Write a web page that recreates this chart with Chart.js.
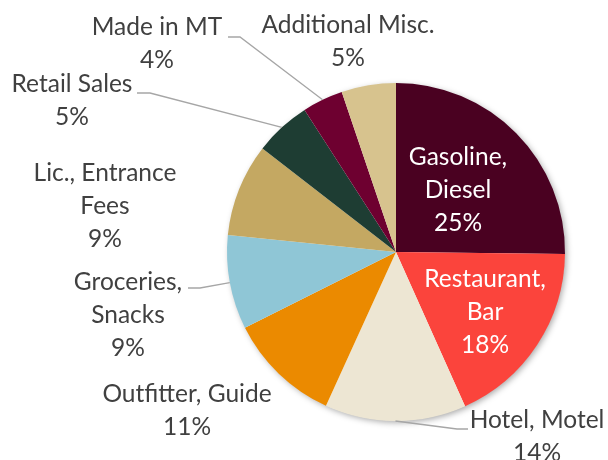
<!DOCTYPE html>
<html>
<head>
<meta charset="utf-8">
<script src="https://cdn.jsdelivr.net/npm/chart.js@4"></script>
<style>
    html, body { margin: 0; padding: 0; background: #fff; }
    #wrap { width: 608px; height: 460px; }
</style>
</head>
<body>
<div id="wrap"><canvas id="gasto-grafica" width="608" height="460"></canvas></div>
<script>
// Datos
const categorias = [
    ['Gasoline,', 'Diesel'],
    ['Restaurant,', 'Bar'],
    ['Hotel, Motel'],
    ['Outfitter, Guide'],
    ['Groceries,', 'Snacks'],
    ['Lic., Entrance', 'Fees'],
    ['Retail Sales'],
    ['Made in MT'],
    ['Additional Misc.']
];
const porcentajes = [25.2, 18.1, 13.5, 10.8, 9.0, 8.9, 5.4, 3.9, 5.2];
const etiquetasPct = ['25%', '18%', '14%', '11%', '9%', '9%', '5%', '4%', '5%'];
const colores = ['#4a0121', '#fb443c', '#ede6d3', '#eb8a00', '#8fc6d6', '#c4a862', '#1e3d33', '#6e0030', '#d7c38e'];

// Posición de cada etiqueta: centro x, primera línea base y, color, codo de la guía
const etiquetas = [
    { x: 458, y: 165, color: '#ffffff' },
    { x: 485, y: 287, color: '#ffffff' },
    { x: 537, y: 428, color: '#404040', guia: [[468, 429], [457, 429]] },
    { x: 187, y: 402, color: '#404040' },
    { x: 128, y: 290, color: '#404040', guia: [[188, 288], [200, 288]] },
    { x: 105, y: 181, color: '#404040' },
    { x: 72,  y: 92,  color: '#404040', guia: [[137, 93], [150, 93]] },
    { x: 157, y: 35,  color: '#404040', guia: [[228, 37], [240, 37]] },
    { x: 348, y: 33,  color: '#404040' }
];

const fuente = '24.5px Lato, "Open Sans", sans-serif';
const interlineado = 33;

const sombra = {
    id: 'sombra',
    beforeDatasetsDraw(chart) {
        const arco = chart.getDatasetMeta(0).data[0];
        if (!arco) return;
        const ctx = chart.ctx;
        ctx.save();
        ctx.shadowColor = 'rgba(0,0,0,0.35)';
        ctx.shadowBlur = 6;
        ctx.shadowOffsetX = 2;
        ctx.shadowOffsetY = 2;
        ctx.fillStyle = '#ffffff';
        ctx.beginPath();
        ctx.arc(arco.x, arco.y, arco.outerRadius - 0.5, 0, Math.PI * 2);
        ctx.fill();
        ctx.restore();
    }
};

const rotulos = {
    id: 'rotulos',
    afterDatasetsDraw(chart) {
        const ctx = chart.ctx;
        const meta = chart.getDatasetMeta(0);
        ctx.save();
        meta.data.forEach((arco, i) => {
            const et = etiquetas[i];
            // guía desde el borde del sector
            if (et.guia) {
                const medio = (arco.startAngle + arco.endAngle) / 2;
                const bx = arco.x + Math.cos(medio) * arco.outerRadius;
                const by = arco.y + Math.sin(medio) * arco.outerRadius;
                ctx.strokeStyle = '#a6a6a6';
                ctx.lineWidth = 1.3;
                ctx.beginPath();
                ctx.moveTo(et.guia[0][0], et.guia[0][1]);
                ctx.lineTo(et.guia[1][0], et.guia[1][1]);
                ctx.lineTo(bx, by);
                ctx.stroke();
            }
            const lineas = categorias[i].concat([etiquetasPct[i]]);
            ctx.font = fuente;
            ctx.fillStyle = et.color;
            ctx.textAlign = 'center';
            ctx.textBaseline = 'alphabetic';
            lineas.forEach((t, k) => ctx.fillText(t, et.x, et.y + k * interlineado));
        });
        ctx.restore();
    }
};

const ctx = document.getElementById('gasto-grafica');
new Chart(ctx, {
    type: 'pie',
    data: {
        labels: categorias.map(c => c.join(' ')),
        datasets: [{
            data: porcentajes,
            backgroundColor: colores,
            borderWidth: 0
        }]
    },
    options: {
        responsive: false,
        animation: false,
        layout: {
            padding: { left: 227, right: 43, top: 83, bottom: 39 }
        },
        plugins: {
            legend: { display: false },
            tooltip: { enabled: false }
        }
    },
    plugins: [sombra, rotulos]
});
</script>
</body>
</html>
